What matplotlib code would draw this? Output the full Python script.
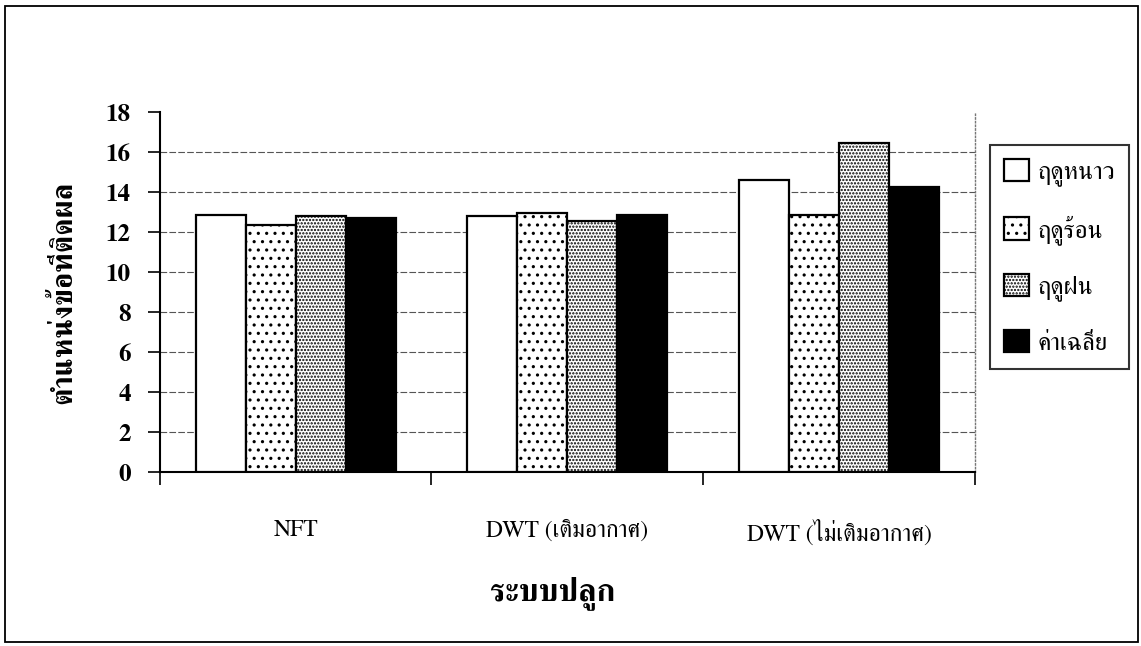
import matplotlib
matplotlib.use("Agg")
import numpy as np
import matplotlib.pyplot as plt
from matplotlib.patches import Rectangle

# ข้อมูล
categories = ["NFT", "DWT (เติมอากาศ)", "DWT (ไม่เติมอากาศ)"]
seasons = ["ฤดูหนาว", "ฤดูร้อน", "ฤดูฝน", "ค่าเฉลี่ย"]
winter = [12.85, 12.78, 14.6]
summer = [12.33, 12.95, 12.83]
rainy = [12.8, 12.57, 16.43]
average = [12.7, 12.85, 14.23]
yticks = list(range(0, 20, 2))

plt.rcParams['font.family'] = ['FreeSerif', 'DejaVu Serif']
plt.rcParams['hatch.linewidth'] = 1.1

fig = plt.figure(figsize=(11.41, 6.46), dpi=100)
ax = fig.add_axes([0.140, 0.2693, 0.7145, 0.5573])

x = np.arange(len(categories))
w = 0.184
series = [winter, summer, rainy, average]
faces = ['white', 'white', 'white', 'black']
hatches = [None, '..', '.....', None]
for i, vals in enumerate(series):
    ax.bar(x + (i - 1.5) * w, vals, w, color=faces[i], edgecolor='black',
           linewidth=1.6, hatch=hatches[i], label=seasons[i], zorder=3)

ax.set_xlim(-0.5, 2.5)
ax.set_ylim(0, 18)
ax.set_yticks(yticks)
ax.set_yticklabels([str(v) for v in yticks], fontsize=18, fontweight='bold')
ax.tick_params(axis='y', length=9, width=1.2, pad=12)

ax.set_xticks(x)
ax.set_xticklabels(categories, fontsize=17)
ax.tick_params(axis='x', which='major', length=0, pad=34)
ax.set_xticks([-0.5, 0.5, 1.5, 2.5], minor=True)
ax.tick_params(axis='x', which='minor', length=9, width=1.2)

ax.yaxis.grid(True, color='#555555', linestyle=(0, (6, 2)), linewidth=0.8, zorder=0)
ax.get_ygridlines()[-1].set_visible(False)
ax.set_axisbelow(True)

ax.spines['top'].set_visible(False)
ax.spines['right'].set_color('#777777')
ax.spines['right'].set_linestyle(':')
ax.spines['right'].set_linewidth(1.0)
ax.spines['left'].set_linewidth(1.5)
ax.spines['bottom'].set_linewidth(1.5)

ax.set_ylabel("ตำแหน่งข้อที่ติดผล", fontsize=21, fontweight='bold', labelpad=20)
fig.text(0.484, 0.082, "ระบบปลูก", fontsize=23, fontweight='bold', ha='center', va='center')

leg = ax.legend(loc='upper left', bbox_to_anchor=(990 / 1141, 1 - 145 / 646),
                bbox_transform=fig.transFigure, fontsize=18, frameon=True,
                fancybox=False, edgecolor='black', handlelength=1.0, handleheight=1.0,
                handletextpad=0.35, labelspacing=1.15, borderpad=0.55, borderaxespad=0)
leg.get_frame().set_linewidth(1.5)

# กรอบรอบแผนภูมิ
fig.patches.append(Rectangle((5 / 1141, 4 / 646), 1133 / 1141, 636 / 646,
                             transform=fig.transFigure, fill=False,
                             edgecolor='black', linewidth=1.3))

plt.savefig("out.png", dpi=100)
